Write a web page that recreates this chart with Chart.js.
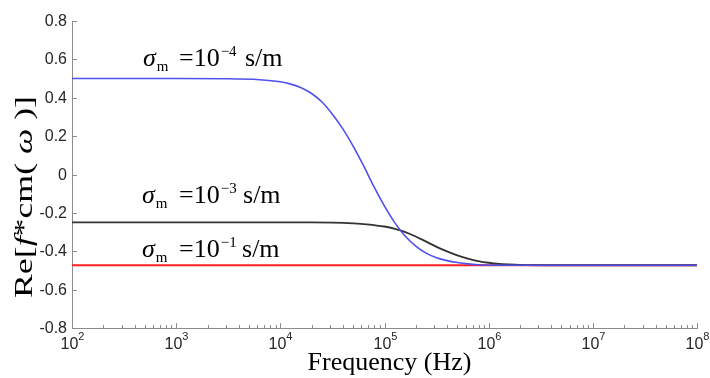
<!DOCTYPE html>
<html><head><meta charset="utf-8">
<script src="https://cdn.jsdelivr.net/npm/chart.js@4.4.1/dist/chart.umd.min.js"></script>
<style>html,body{margin:0;padding:0;background:#fff}#wrap{width:710px;height:378px;position:relative}</style>
</head><body><div id="wrap"><canvas id="c" width="710" height="378"></canvas></div>
<script>
// ---- data; x positions given as log10(frequency / Hz) ----
const expBlue = [2, 3, 3.5, 3.8, 4.0, 4.1, 4.2, 4.3, 4.4, 4.5, 4.6, 4.7, 4.8, 4.9, 5.0, 5.1, 5.2, 5.3, 5.4, 5.5, 5.6, 5.7, 5.8, 5.9, 6.1, 8];
const valBlue = [0.5, 0.5, 0.499, 0.494, 0.483, 0.471, 0.452, 0.422, 0.378, 0.314, 0.238, 0.147, 0.045, -0.065, -0.165, -0.252, -0.322, -0.373, -0.410, -0.434, -0.449, -0.459, -0.466, -0.470, -0.473, -0.473];

const expBlack = [2, 4.0, 4.3, 4.5, 4.7, 4.8, 4.9, 5.0, 5.1, 5.2, 5.3, 5.4, 5.5, 5.6, 5.7, 5.8, 5.9, 6.0, 6.1, 6.2, 6.3, 6.5, 8];
const valBlack = [-0.25, -0.25, -0.25, -0.251, -0.255, -0.259, -0.264, -0.271, -0.283, -0.300, -0.323, -0.350, -0.377, -0.401, -0.422, -0.438, -0.451, -0.460, -0.466, -0.469, -0.471, -0.473, -0.473];

const expRed = [2, 8];
const valRed = [-0.473, -0.473];

const seriesExps = ['\u22124', '\u22123', '\u22121'];   // sigma_m = 10^exp s/m

const yTickValues = [0.8, 0.6, 0.4, 0.2, 0, -0.2, -0.4, -0.6, -0.8];
const yTickLabels = ['0.8', '0.6', '0.4', '0.2', '0', '-0.2', '-0.4', '-0.6', '-0.8'];
const xTickExps   = [2, 3, 4, 5, 6, 7, 8];
const xMinorMult  = [2, 3, 4, 5, 6, 7, 8, 9];

const xTitle = 'Frequency (Hz)';

function pts(es, ys){ return es.map((e,i)=>({x: Math.pow(10, e), y: ys[i]})); }

const AX = '#8c8c8c';
const SERIF = '"Liberation Serif", "Times New Roman", serif';
const SANS = '"Liberation Sans", Arial, sans-serif';

const decor = {
  id: 'decor',
  afterDraw(chart){
    const ctx = chart.ctx, xs = chart.scales.x, ys = chart.scales.y, ca = chart.chartArea;
    ctx.save();
    // y ticks + labels
    ctx.strokeStyle = AX; ctx.lineWidth = 1;
    ctx.fillStyle = '#262626'; ctx.font = '16px ' + SANS;
    ctx.textAlign = 'right'; ctx.textBaseline = 'middle';
    yTickValues.forEach((v,i)=>{
      const y = Math.round(ys.getPixelForValue(v)) + 0.5;
      ctx.beginPath(); ctx.moveTo(ca.left, y); ctx.lineTo(ca.left + 5, y); ctx.stroke();
      ctx.fillText(yTickLabels[i], ca.left - 5, y);
    });
    // x ticks
    xTickExps.forEach((e)=>{
      const x = Math.round(xs.getPixelForValue(Math.pow(10, e))) + 0.5;
      ctx.beginPath(); ctx.moveTo(x, ca.bottom); ctx.lineTo(x, ca.bottom - 5); ctx.stroke();
      if (e < xTickExps[xTickExps.length-1]) {
        xMinorMult.forEach(m=>{
          const xm = Math.round(xs.getPixelForValue(m * Math.pow(10, e))) + 0.5;
          ctx.beginPath(); ctx.moveTo(xm, ca.bottom); ctx.lineTo(xm, ca.bottom - 3); ctx.stroke();
        });
      }
      ctx.textAlign = 'left'; ctx.textBaseline = 'alphabetic';
      ctx.font = '16px ' + SANS;
      const w1 = ctx.measureText('10').width;
      ctx.font = '11px ' + SANS;
      const w2 = ctx.measureText(String(e)).width;
      const x0 = x - (w1 + w2) / 2;
      ctx.font = '16px ' + SANS;
      ctx.fillText('10', x0, ca.bottom + 21);
      ctx.font = '11px ' + SANS;
      ctx.fillText(String(e), x0 + w1, ca.bottom + 12);
    });
    // x title
    ctx.fillStyle = '#000';
    ctx.font = '26px ' + SERIF; ctx.textAlign = 'center'; ctx.textBaseline = 'alphabetic';
    ctx.fillText(xTitle, (ca.left + ca.right) / 2 + 5, 370);

    // y title (rich text, rotated)
    const pieces = [['Re[', ''], ['f', 'italic '], ['*', ''], ['cm(', ''], [' \u03C9 ', 'italic '], [')]', '']];
    let total = 0;
    pieces.forEach(p=>{ ctx.font = p[1] + '25px ' + SERIF; p.push(ctx.measureText(p[0]).width); total += p[2]; });
    ctx.save();
    ctx.translate(32, 197);
    ctx.rotate(-Math.PI/2);
    const sx = 202 / total;
    ctx.scale(sx, 1);
    ctx.textAlign = 'left';
    let cx = -total/2;
    pieces.forEach(p=>{ ctx.font = p[1] + '25px ' + SERIF; ctx.fillText(p[0], cx, 0); cx += p[2]; });
    ctx.restore();

    // series annotations
    const anchors = chart.options.plugins.decor.anchors;
    anchors.forEach((a, i)=>{
      const x0 = xs.getPixelForValue(a.f), yb = ys.getPixelForValue(a.v);
      ctx.textAlign = 'left'; ctx.textBaseline = 'alphabetic'; ctx.fillStyle = '#000';
      ctx.font = 'italic 26px ' + SERIF; ctx.fillText('\u03C3', x0, yb);
      const ws = ctx.measureText('\u03C3').width;
      ctx.font = '15px ' + SERIF; ctx.fillText('m', x0 + ws + 1, yb + 5);
      ctx.font = '26px ' + SERIF; ctx.fillText('=10', x0 + 36 + a.dx, yb);
      const wq = ctx.measureText('=10').width;
      ctx.font = '15px ' + SERIF; ctx.fillText(seriesExps[i], x0 + 36 + a.dx + wq + 1, yb - 10);
      ctx.font = '26px ' + SERIF; ctx.fillText('s/m', x0 + a.sm, yb);
    });
    ctx.restore();
  }
};

new Chart(document.getElementById('c'), {
  type: 'line',
  data: {
    datasets: [
      { data: pts(expBlue, valBlue), borderColor: '#5050ee', borderWidth: 1.6, pointRadius: 0, cubicInterpolationMode: 'monotone' },
      { data: pts(expBlack, valBlack), borderColor: '#333333', borderWidth: 1.8, pointRadius: 0, cubicInterpolationMode: 'monotone' },
      { data: pts(expRed, valRed), borderColor: '#ff2020', borderWidth: 2, pointRadius: 0 }
    ]
  },
  options: {
    responsive: false, animation: false, devicePixelRatio: 1,
    layout: { padding: { left: 72, right: 13, top: 21, bottom: 50 } },
    plugins: {
      legend: { display: false }, tooltip: { enabled: false },
      decor: { anchors: [
        { f: 480, v: 0.565, dx: 0, sm: 102 },
        { f: 470, v: -0.150, dx: 1, sm: 101 },
        { f: 470, v: -0.431, dx: 1, sm: 100 }
      ] }
    },
    scales: {
      x: { type: 'logarithmic', min: 1e2, max: 1e8,
           ticks: { display: false },
           grid: { display: true, drawOnChartArea: false, drawTicks: false },
           border: { display: true, color: AX, width: 1 },
           afterFit(s){ s.height = 0; } },
      y: { type: 'linear', min: -0.8, max: 0.8,
           ticks: { display: false, stepSize: 0.2 },
           grid: { display: true, drawOnChartArea: false, drawTicks: false },
           border: { display: true, color: AX, width: 1 },
           afterFit(s){ s.width = 0; } }
    }
  },
  plugins: [decor]
});
</script>
</body></html>
